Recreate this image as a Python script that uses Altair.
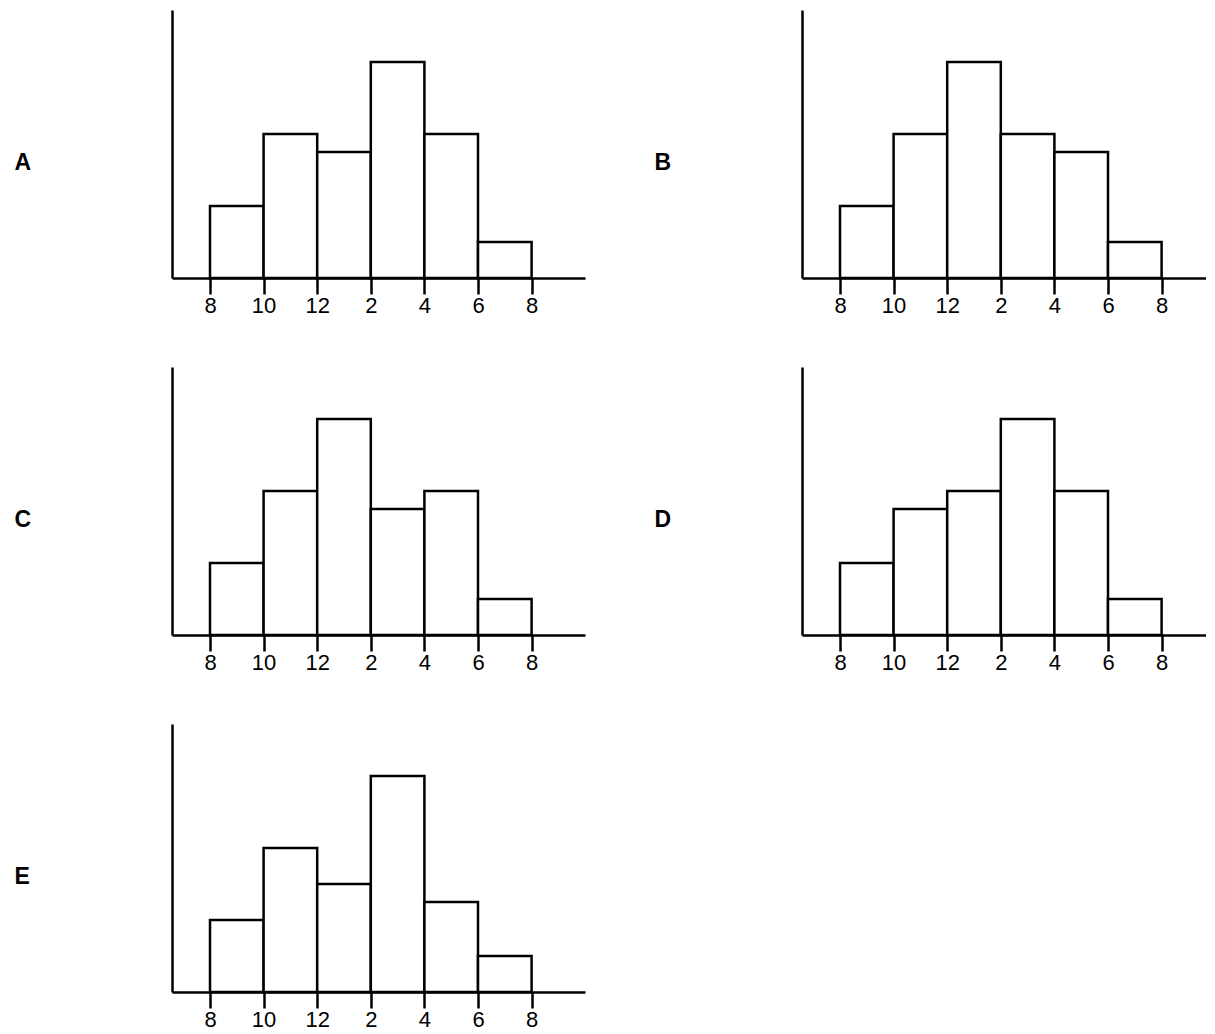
import altair as alt
import pandas as pd

# Tick labels (hours) at the bin edges
tick_labels = ["8", "10", "12", "2", "4", "6", "8"]
# Bar heights (relative units) for each panel, bins 8-10, 10-12, 12-2, 2-4, 4-6, 6-8
panel_names = ["A", "B", "C", "D", "E"]
values_A = [4, 8, 7, 12, 8, 2]
values_B = [4, 8, 12, 8, 7, 2]
values_C = [4, 8, 12, 7, 8, 2]
values_D = [4, 7, 8, 12, 8, 2]
values_E = [4, 8, 6, 12, 5, 2]
panel_values = [values_A, values_B, values_C, values_D, values_E]

FONT = "Liberation Sans"
W_LEFT = 413
W_RIGHT = 404
H = 268
PX_PER_BIN = 53.6
X_MIN = -0.709
Y_MAX = H / 18.0
label_expr = "[" + ",".join('"%s"' % t for t in tick_labels) + "][datum.value]"


def panel(name, vals, left):
    df = pd.DataFrame({
        "x0": list(range(len(vals))),
        "x1": [i + 1 for i in range(len(vals))],
        "v": vals,
    })
    w = W_LEFT if left else W_RIGHT
    x_max = X_MIN + w / PX_PER_BIN
    title_x = -158 if left else -148
    return alt.Chart(df).mark_rect(
        fill="white", stroke="black", strokeWidth=2.5
    ).encode(
        x=alt.X("x0:Q", scale=alt.Scale(domain=[X_MIN, x_max], nice=False, zero=False),
                axis=alt.Axis(title=None, values=list(range(len(tick_labels))),
                              labelExpr=label_expr, grid=False,
                              domainColor="black", domainWidth=2.5,
                              tickColor="black", tickWidth=2.5, tickSize=16,
                              labelPadding=1, labelFont=FONT, labelFontSize=22,
                              labelColor="black", labelFlush=False)),
        x2="x1:Q",
        y=alt.Y("v:Q", scale=alt.Scale(domain=[0, Y_MAX], nice=False),
                axis=alt.Axis(title=name, ticks=False, labels=False, grid=False,
                              domainColor="black", domainWidth=2.5,
                              titleAngle=0, titleX=title_x, titleY=159.5,
                              titleAlign="left", titleBaseline="alphabetic",
                              titleFont=FONT, titleFontSize=23, titleFontWeight="bold",
                              titleColor="black")),
        y2=alt.datum(0),
    ).properties(width=w, height=H)


panels = [panel(n, v, i % 2 == 0) for i, (n, v) in enumerate(zip(panel_names, panel_values))]

chart = alt.concat(
    *panels, columns=2, spacing={"row": 89, "column": 217}, bounds="flush"
).properties(
    padding={"left": 6, "top": 2, "right": 0, "bottom": 0}
).configure_view(stroke=None, strokeWidth=0)

chart.save("out.html", embed_options={"renderer": "svg", "actions": False})
